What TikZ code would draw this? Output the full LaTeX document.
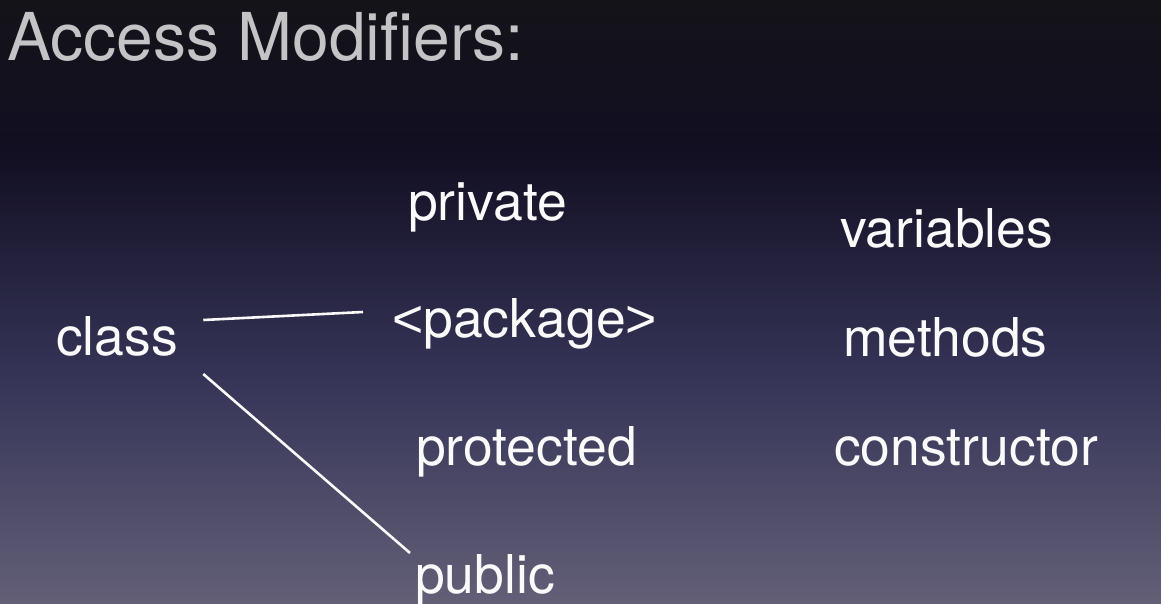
\documentclass[tikz,border=0pt]{standalone}
\usepackage{fontspec}
\setmainfont{TeX Gyre Heros}
\newfontfamily\bracketfont{Liberation Sans}
\usetikzlibrary{calc, positioning}
\definecolor{bgtop}{HTML}{141318}
\definecolor{bgnavy}{HTML}{120F22}
\definecolor{bgmid}{HTML}{353457}
\definecolor{bgbot}{HTML}{635F77}
\definecolor{titlegray}{HTML}{C4C4C6}
\tikzset{
  word/.style={anchor=base west, inner sep=0pt, text=white!96!gray, font=\fontsize{53.5}{60}\selectfont},
  link/.style={draw=white!95!gray, line width=2.6pt}
}

\begin{document}
\begin{tikzpicture}[x=1pt, y=-1pt]
\shade[top color=bgtop, bottom color=bgnavy] (0,0) rectangle (1161,150);
\shade[top color=bgnavy, bottom color=bgbot, middle color=bgmid] (0,150) rectangle (1161,603);
\useasboundingbox (0,0) rectangle (1161,603);
\node[anchor=base west, inner sep=0pt, text=titlegray, font=\fontsize{66}{70}\selectfont] (title) at (7,60) {Access Modifiers:};
\node[word] (class) at (56,355) {class};
\node[word] (private) at (408,220) {private};
\node[word] (package) at (392,337) {{\bracketfont<}package{\bracketfont>}};
\node[word] (protected) at (416,465) {protected};
\node[word] (public) at (415,593) {public};
\node[word] (variables) at (840,247) {variables};
\node[word] (methods) at (843,356) {methods};
\node[word] (constructor) at (834,465) {constructor};
\draw[link] ($(class.base east)+(25,-35)$) -- ($(package.base west)+(-29,-25)$);
\draw[link] ($(class.base east)+(25,19)$) -- ($(public.base west)+(-5,-40)$);
\end{tikzpicture}
\end{document}
